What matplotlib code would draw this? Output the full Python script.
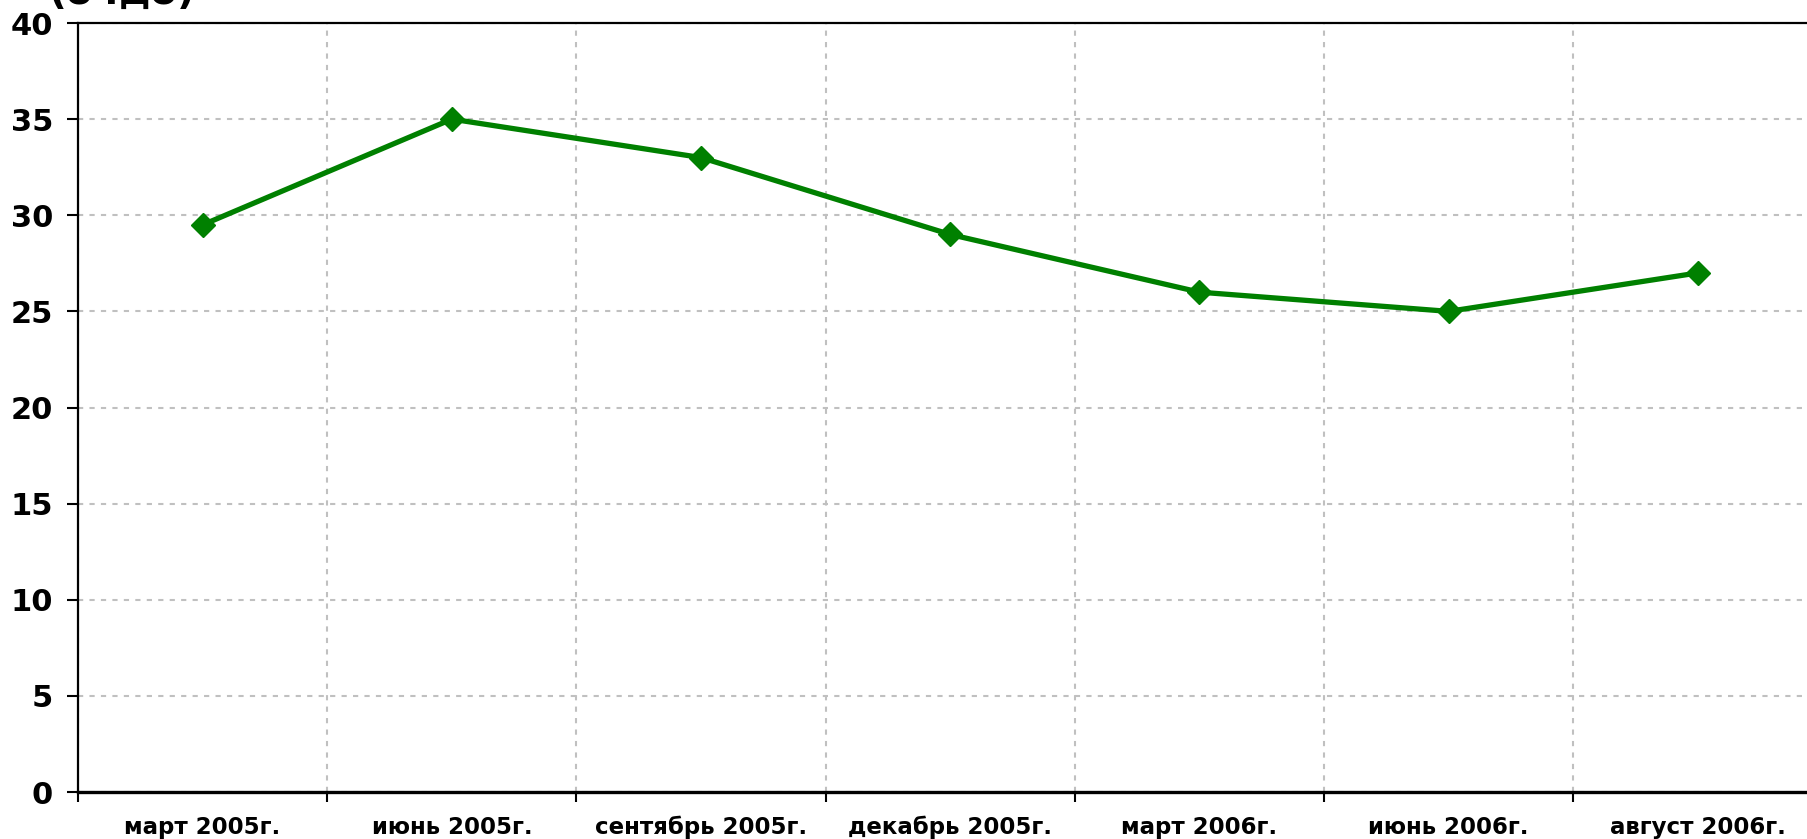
import matplotlib
matplotlib.use('Agg')
import matplotlib.pyplot as plt
import numpy as np

# Data
periods = ['март 2005г.', 'июнь 2005г.', 'сентябрь 2005г.', 'декабрь 2005г.',
           'март 2006г.', 'июнь 2006г.', 'август 2006г.']
values = [29.5, 35.0, 33.0, 29.0, 26.0, 25.0, 27.0]
y_ticks = [0, 5, 10, 15, 20, 25, 30, 35, 40]

fig = plt.figure(figsize=(18.07, 8.39), dpi=100)
# axes runs a little past the right edge of the picture, like the original
ax = fig.add_axes([78 / 1807, 1 - 792 / 839, (1822.5 - 78) / 1807, (792 - 23) / 839])

x = np.arange(len(periods))
ax.plot(x, values, color='#008000', linewidth=3.8, marker='D', markersize=12.5,
        markerfacecolor='#008000', markeredgecolor='#008000', zorder=3, clip_on=False)

ax.set_xlim(-0.5, len(periods) - 0.5)
ax.set_ylim(0, 40)

# category labels at centres, tick marks and grid at boundaries
ax.set_xticks(x)
ax.set_xticklabels(periods, fontsize=16.5, fontweight='bold')
ax.tick_params(axis='x', which='major', length=0, pad=17)
ax.set_xticks(np.arange(len(periods) + 1) - 0.5, minor=True)
ax.tick_params(axis='x', which='minor', length=7, width=1.5, direction='out')

ax.set_yticks(y_ticks)
ax.set_yticklabels([str(v) for v in y_ticks], fontsize=22, fontweight='bold')
ax.tick_params(axis='y', length=8, width=1.5, direction='out', pad=10)

ax.grid(axis='y', which='major', color='#C0C0C0', linestyle=(0, (2.5, 3)), linewidth=1.5)
ax.grid(axis='x', which='minor', color='#C0C0C0', linestyle=(0, (2.5, 3)), linewidth=1.5)
ax.set_axisbelow(True)

for side in ['left', 'top']:
    ax.spines[side].set_linewidth(1.6)
ax.spines['bottom'].set_linewidth(2.4)
ax.spines['right'].set_visible(False)

# title is cut off at the top of the original picture
fig.text(49 / 1807, 1 - 4 / 839, '(очдо)', fontsize=28, fontweight='bold',
         ha='left', va='baseline')

fig.savefig('out.png', dpi=100)
